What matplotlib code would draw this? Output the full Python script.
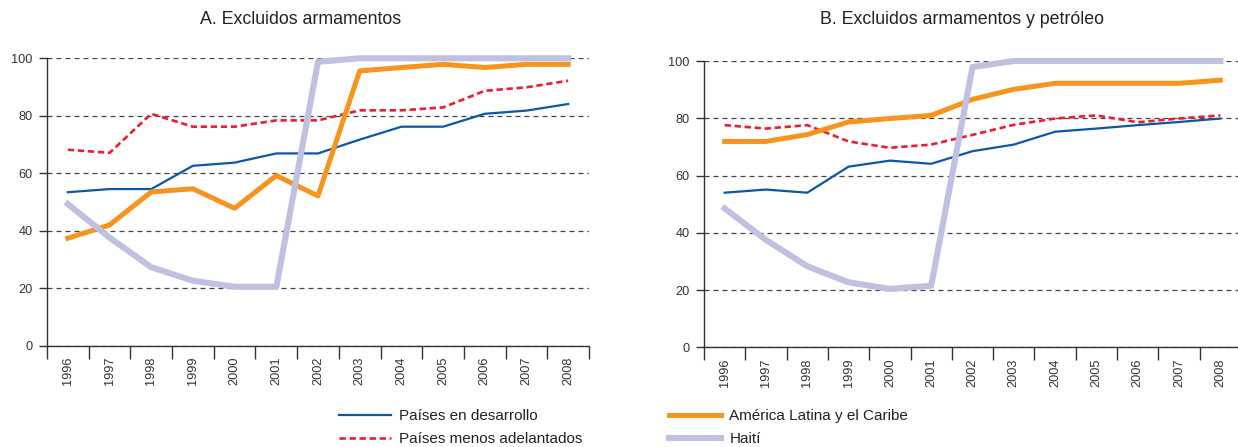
import matplotlib
matplotlib.use("Agg")
import matplotlib.pyplot as plt

years = ["1996", "1997", "1998", "1999", "2000", "2001", "2002",
         "2003", "2004", "2005", "2006", "2007", "2008"]

# Panel A: Excluidos armamentos
a_desarrollo = [53.4, 54.5, 54.5, 62.6, 63.7, 66.9, 66.9, 71.7, 76.2, 76.2, 80.7, 81.8, 84.1]
a_menos_adel = [68.2, 67.1, 80.7, 76.2, 76.2, 78.4, 78.4, 81.9, 81.9, 82.9, 88.7, 89.9, 92.2]
a_america = [37.4, 42.0, 53.5, 54.6, 47.8, 59.2, 52.1, 95.6, 96.8, 97.9, 96.8, 97.9, 97.9]
a_haiti = [49.3, 37.6, 27.3, 22.6, 20.5, 20.5, 98.8, 100, 100, 100, 100, 100, 100]

# Panel B: Excluidos armamentos y petróleo
b_desarrollo = [54.0, 55.1, 54.0, 63.1, 65.2, 64.1, 68.5, 70.8, 75.3, 76.4, 77.6, 78.7, 79.9]
b_menos_adel = [77.6, 76.4, 77.6, 71.9, 69.7, 70.8, 74.2, 77.7, 79.9, 81.0, 78.6, 79.9, 81.0]
b_america = [71.9, 71.9, 74.3, 78.7, 79.9, 81.0, 86.6, 90.1, 92.2, 92.2, 92.2, 92.2, 93.3]
b_haiti = [48.5, 37.5, 28.3, 22.7, 20.4, 21.5, 97.9, 100, 100, 100, 100, 100, 100]

titles = ["A. Excluidos armamentos", "B. Excluidos armamentos y petróleo"]
labels = ["Países en desarrollo", "Países menos adelantados",
          "América Latina y el Caribe", "Haití"]
yticks = [0, 20, 40, 60, 80, 100]

C_BLUE = "#0a58a8"
C_RED = "#ee1c2e"
C_ORANGE = "#f7941d"
C_HAITI = "#c0c0e0"
C_AXIS = "#333333"

plt.rcParams["font.family"] = ["Liberation Sans", "DejaVu Sans"]

W, H = 1238, 447
fig = plt.figure(figsize=(W / 100, H / 100), dpi=100)

rects = [
    (47 / W, (H - 345.7) / H, (589 - 47) / W, (345.7 - 58.3) / H),
    (704 / W, (H - 347.3) / H, (1241 - 704) / W, (347.3 - 61) / H),
]
title_x = [301 / W, 962 / W]
data = [
    (a_desarrollo, a_menos_adel, a_america, a_haiti),
    (b_desarrollo, b_menos_adel, b_america, b_haiti),
]

handles = None
for rect, title, tx, (des, men, ame, hai) in zip(rects, titles, title_x, data):
    ax = fig.add_axes(rect)
    x = list(range(len(years)))
    l1, = ax.plot(x, des, color=C_BLUE, lw=1.6, clip_on=False, zorder=3)
    l2, = ax.plot(x, men, color=C_RED, lw=1.9, dashes=(2.4, 1.4), clip_on=False, zorder=4)
    l3, = ax.plot(x, ame, color=C_ORANGE, lw=3.6, clip_on=False, zorder=5)
    l4, = ax.plot(x, hai, color=C_HAITI, lw=4.4, clip_on=False, zorder=6)
    handles = [l1, l2, l3, l4]

    ax.set_xlim(-0.5, len(years) - 0.5)
    ax.set_ylim(0, 100)
    ax.set_yticks(yticks)
    ax.set_yticklabels([str(v) for v in yticks])
    ax.set_xticks(x)
    ax.set_xticklabels(years, rotation=90)
    ax.set_xticks([i - 0.5 for i in range(len(years) + 1)], minor=True)
    ax.tick_params(axis="x", which="major", length=0, pad=8, labelsize=9.2, colors=C_AXIS)
    ax.tick_params(axis="x", which="minor", length=9.5, width=1.0, color=C_AXIS, direction="out")
    ax.tick_params(axis="y", length=5.8, width=1.0, pad=4.5, labelsize=9.2, colors=C_AXIS)
    for s in ("top", "right"):
        ax.spines[s].set_visible(False)
    for s in ("left", "bottom"):
        ax.spines[s].set_color(C_AXIS)
        ax.spines[s].set_linewidth(1.0)
    ax.yaxis.grid(True, color="#444444", lw=0.9, dashes=(4, 3.2))
    ax.set_axisbelow(True)
    fig.text(tx, (H - 20) / H, title, fontsize=12.8, color="#222222",
             ha="center", va="center")

leg = fig.legend(
    handles, labels,
    ncol=2, loc="upper left", bbox_to_anchor=(339 / W, (H - 409) / H),
    frameon=False, fontsize=11, handlelength=3.4, handletextpad=0.55,
    columnspacing=5.65, labelspacing=0.62, borderpad=0, borderaxespad=0,
)
for t in leg.get_texts():
    t.set_color("#222222")

fig.savefig("out.png", dpi=100)
